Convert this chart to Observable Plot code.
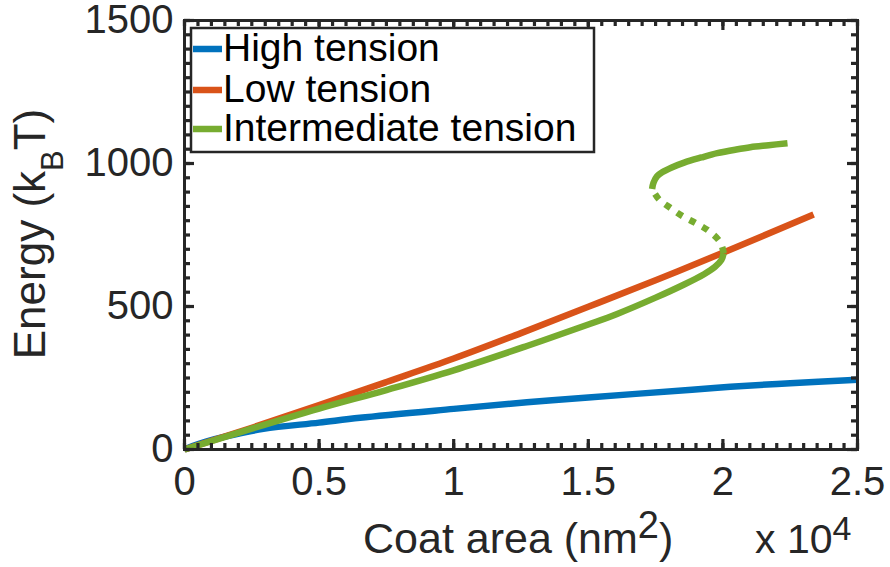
<!DOCTYPE html>
<html><head><meta charset="utf-8">
<script src="https://cdn.jsdelivr.net/npm/d3@7"></script>
<script src="https://cdn.jsdelivr.net/npm/@observablehq/plot@0.6"></script>
<style>
body{margin:0;background:#fff;}
#wrap{position:relative;width:890px;height:567px;overflow:hidden;background:#fff;}
#wrap svg.overlay{position:absolute;left:0;top:0;pointer-events:none;}
</style></head><body><div id="wrap"></div>
<script>
// ---- data (x in units of 10^4 nm^2, y in kBT) ----
const xTickLabels = [0, 0.5, 1, 1.5, 2, 2.5];
const yTickLabels = [0, 500, 1000, 1500];
const seriesNames = ["High tension", "Low tension", "Intermediate tension"];
const seriesColors = ["#0072BD", "#D95319", "#77AC30"];

const highX = [0, 0.03, 0.08, 0.15, 0.293, 0.5, 0.652, 1.0, 1.272, 1.5, 1.885, 2.028, 2.25, 2.5];
const highY = [0, 12, 28, 45, 72, 94, 111, 142, 165, 182, 209, 219, 232, 244];

const lowX = [0, 0.25, 0.5, 0.75, 1.0, 1.25, 1.5, 1.75, 2.0, 2.337];
const lowY = [0, 76, 155, 236, 318, 407, 499, 592, 688, 822];

const interLowX = [0, 0.25, 0.5, 0.75, 1.0, 1.272, 1.5, 1.607, 1.75, 1.856, 1.93, 1.97, 1.994, 2.003];
const interLowY = [0, 73, 143, 208, 277, 362, 437, 474, 531, 577, 613, 638, 662, 686];

const interMidX = [2.003, 1.99, 1.945, 1.900, 1.850, 1.806, 1.763, 1.737];
const interMidY = [686, 725, 766, 791, 816, 844, 874, 911];

const interHighX = [1.737, 1.742, 1.755, 1.776, 1.81, 1.856, 1.92, 1.979, 2.05, 2.102, 2.17, 2.24];
const interHighY = [911, 932, 955, 970, 986, 1003, 1021, 1036, 1049, 1057, 1064, 1071];

const FONT = "'Liberation Sans', Arial, Helvetica, sans-serif";
const INK = "#262626";
const rows = (xs, ys) => xs.map((x, i) => ({x, y: ys[i]}));
const xMinor = d3.range(0, 2.5001, 0.05).map(v => +v.toFixed(2));
const yMinor = d3.range(0, 1500.1, 50);
const lw = 6.5;

const W = 890, H = 567, ML = 184, MR = 33, MT = 20, MB = 118;
const FW = W - ML - MR, FH = H - MT - MB;

const lineOpts = (c, extra = {}) => ({x: "x", y: "y", stroke: c, strokeWidth: lw, curve: "catmull-rom", strokeLinecap: "butt", strokeLinejoin: "round", ...extra});

// inward tick marks: full-frame ticks trimmed by insets to a short length
const tickStyle = {stroke: INK, strokeWidth: 3.2, strokeLinecap: "butt"};
const ticks = (side, values, len) => {
  if (side === "left") return Plot.tickY(values, {y: d => d, insetRight: FW - len, ...tickStyle});
  if (side === "right") return Plot.tickY(values, {y: d => d, insetLeft: FW - len, ...tickStyle});
  if (side === "bottom") return Plot.tickX(values, {x: d => d, insetTop: FH - len, ...tickStyle});
  return Plot.tickX(values, {x: d => d, insetBottom: FH - len, ...tickStyle});
};
const MINOR = 6, MAJOR = 10;

const chart = Plot.plot({
  width: W, height: H,
  marginLeft: ML, marginRight: MR, marginTop: MT, marginBottom: MB,
  style: {fontFamily: FONT, color: INK, background: "#fff"},
  x: {domain: [0, 2.5], label: null},
  y: {domain: [0, 1500], label: null},
  marks: [
    Plot.line(rows(highX, highY), lineOpts(seriesColors[0])),
    Plot.line(rows(lowX, lowY), lineOpts(seriesColors[1])),
    Plot.line(rows(interLowX, interLowY), lineOpts(seriesColors[2])),
    Plot.line(rows(interMidX, interMidY), lineOpts(seriesColors[2], {strokeDasharray: "6.5,8"})),
    Plot.line(rows(interHighX, interHighY), lineOpts(seriesColors[2])),
    ticks("bottom", xMinor, MINOR),
    ticks("top", xMinor, MINOR),
    ticks("bottom", xTickLabels, MAJOR),
    ticks("top", xTickLabels, MAJOR),
    ticks("left", yMinor, MINOR),
    ticks("right", yMinor, MINOR),
    ticks("left", yTickLabels, MAJOR),
    ticks("right", yTickLabels, MAJOR),
    Plot.frame({stroke: INK, strokeWidth: 3}),
    Plot.axisX({anchor: "bottom", ticks: xTickLabels, tickSize: 0, tickPadding: 17, fontSize: 40, tickFormat: d => String(d), label: null}),
    Plot.axisY({anchor: "left", ticks: yTickLabels, tickSize: 0, tickPadding: 11, fontSize: 40, tickFormat: d => String(d), label: null})
  ]
});
const wrap = document.getElementById("wrap");
wrap.appendChild(chart);

// overlay: axis titles and legend
const ov = d3.select(wrap).append("svg").attr("class", "overlay")
  .attr("width", W).attr("height", H)
  .style("font-family", FONT).style("fill", INK);

// x title
const xt = ov.append("text").attr("x", 363).attr("y", 553).attr("font-size", 43);
xt.append("tspan").text("Coat area (nm");
xt.append("tspan").attr("dy", -15).attr("font-size", 38).text("2");
xt.append("tspan").attr("dy", 15).text(")");

const xe = ov.append("text").attr("x", 755).attr("y", 553).attr("font-size", 41);
xe.append("tspan").text("x 10");
xe.append("tspan").attr("dy", -13).attr("font-size", 34).text("4");

// y title
const yt = ov.append("text").attr("transform", "translate(45,234) rotate(-90)")
  .attr("text-anchor", "middle").attr("font-size", 44);
yt.append("tspan").text("Energy (k");
yt.append("tspan").attr("dy", 18).attr("font-size", 31).text("B");
yt.append("tspan").attr("dy", -18).text("T)");

// legend
const lg = ov.append("g");
lg.append("rect").attr("x", 191).attr("y", 28).attr("width", 403).attr("height", 124)
  .attr("fill", "#fff").attr("stroke", INK).attr("stroke-width", 2.5);
const rowY = [49, 90, 129];
seriesNames.forEach((name, i) => {
  lg.append("line").attr("x1", 193).attr("x2", 222).attr("y1", rowY[i]).attr("y2", rowY[i])
    .attr("stroke", seriesColors[i]).attr("stroke-width", lw);
  lg.append("text").attr("x", 223).attr("y", rowY[i] + 12).attr("font-size", 39).attr("fill", "#000").text(name);
});
</script></body></html>
